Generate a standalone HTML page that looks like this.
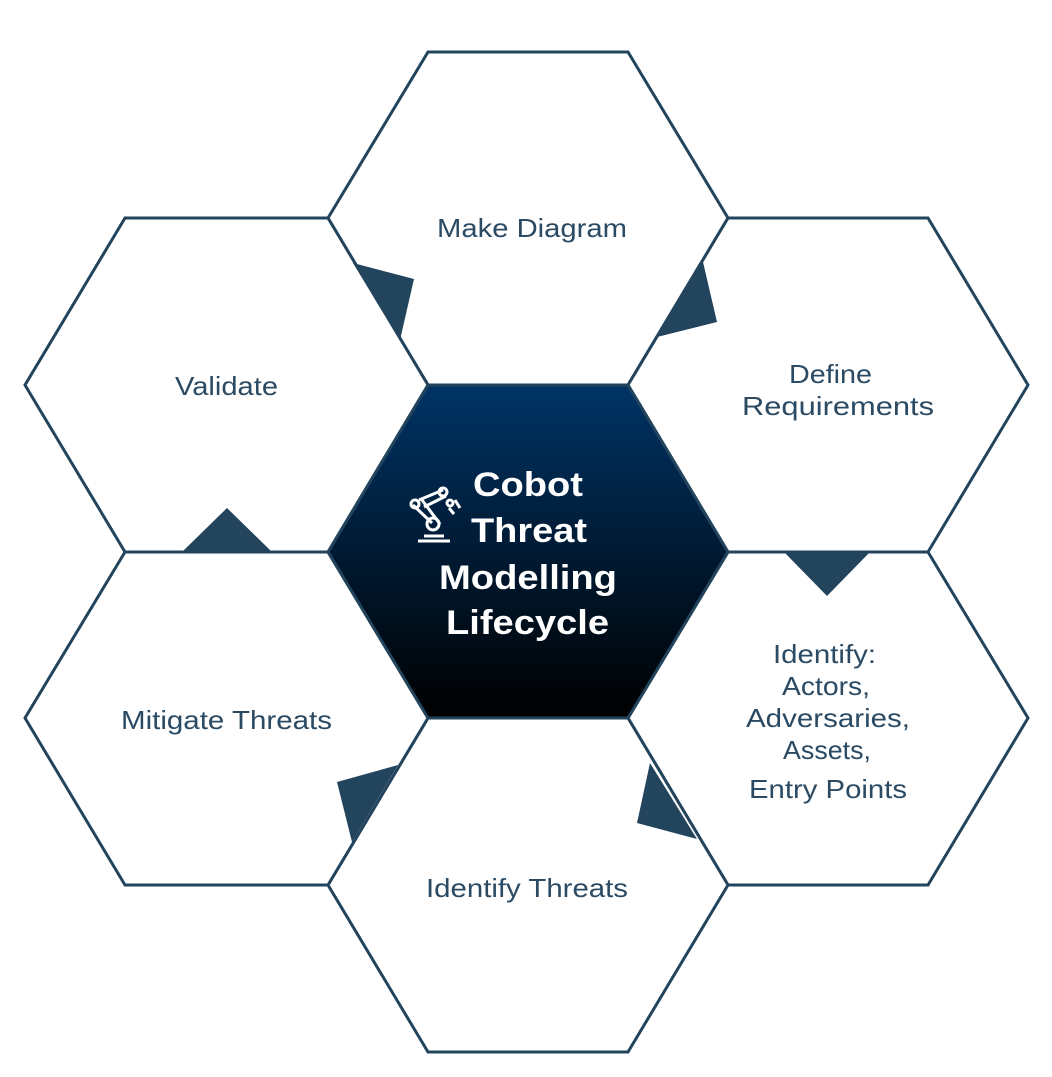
<!DOCTYPE html>
<html><head><meta charset="utf-8"><style>
html,body{margin:0;padding:0;background:#fff;}
svg{display:block;}
text{font-family:"Liberation Sans",sans-serif;}
</style></head><body>
<svg width="1052" height="1077" viewBox="0 0 1052 1077">
<defs>
<linearGradient id="g" x1="0" y1="0" x2="0" y2="1">
<stop offset="0" stop-color="#003466"/>
<stop offset="1" stop-color="#000000"/>
</linearGradient>
</defs>
<g fill="#fff" stroke="#23445d" stroke-width="3" stroke-linejoin="miter">
<polygon points="428,52 628,52 728,218 628,385 428,385 328,218"/>
<polygon points="728,218 928,218 1028,385 928,552 728,552 628,385"/>
<polygon points="728,552 928,552 1028,718 928,885 728,885 628,718"/>
<polygon points="428,718 628,718 728,885 628,1052 428,1052 328,885"/>
<polygon points="125,552 328,552 428,718 328,885 125,885 25,718"/>
<polygon points="125,218 328,218 428,385 328,552 125,552 25,385"/>
</g>
<polygon points="428,385 628,385 728,552 628,718 428,718 328,552" fill="url(#g)" stroke="#23445d" stroke-width="3"/>
<g fill="#23445d">
<polygon points="353,263 414,279 400,340"/>
<polygon points="703,262 717,322 657,337"/>
<polygon points="182,552 227,508 272,552"/>
<polygon points="784,552 870,552 827,596"/>
<polygon points="650,763 697,839 637,823"/>
<polygon points="398,765 337,782 352,842"/>
</g>
<g fill="#2b4a63" font-size="26">
<text x="437" y="237" textLength="190" lengthAdjust="spacingAndGlyphs">Make Diagram</text>
<text x="789" y="383" textLength="83" lengthAdjust="spacingAndGlyphs">Define</text>
<text x="742" y="415" textLength="192" lengthAdjust="spacingAndGlyphs">Requirements</text>
<text x="175" y="395" textLength="103" lengthAdjust="spacingAndGlyphs">Validate</text>
<text x="121" y="729" textLength="211" lengthAdjust="spacingAndGlyphs">Mitigate Threats</text>
<text x="426" y="897" textLength="202" lengthAdjust="spacingAndGlyphs">Identify Threats</text>
<text x="773" y="663" textLength="103" lengthAdjust="spacingAndGlyphs">Identify:</text>
<text x="782" y="695" textLength="88" lengthAdjust="spacingAndGlyphs">Actors,</text>
<text x="746" y="727" textLength="164" lengthAdjust="spacingAndGlyphs">Adversaries,</text>
<text x="783" y="759" textLength="88" lengthAdjust="spacingAndGlyphs">Assets,</text>
<text x="749" y="798" textLength="158" lengthAdjust="spacingAndGlyphs">Entry Points</text>
</g>
<g fill="#fff" font-size="34" font-weight="bold">
<text x="473" y="496" textLength="110" lengthAdjust="spacingAndGlyphs">Cobot</text>
<text x="471" y="542" textLength="116" lengthAdjust="spacingAndGlyphs">Threat</text>
<text x="439" y="589" textLength="178" lengthAdjust="spacingAndGlyphs">Modelling</text>
<text x="446" y="634" textLength="163" lengthAdjust="spacingAndGlyphs">Lifecycle</text>
</g>
<g stroke="#fff" stroke-width="3" fill="none">
<line x1="418" y1="541" x2="450" y2="541"/>
<line x1="424" y1="536" x2="444" y2="536"/>
<line x1="413" y1="505" x2="432" y2="523"/>
<line x1="422" y1="500" x2="440" y2="524"/>
<line x1="419" y1="500" x2="443" y2="490"/>
<line x1="424" y1="507" x2="446" y2="496"/>
<circle cx="415" cy="504" r="4"/>
<circle cx="443" cy="492" r="4"/>
<circle cx="433" cy="524" r="6"/>
<circle cx="450" cy="503" r="3"/>
<path d="M449 508 l5 6 M455 500 l5 8"/>
</g>
</svg>
</body></html>
